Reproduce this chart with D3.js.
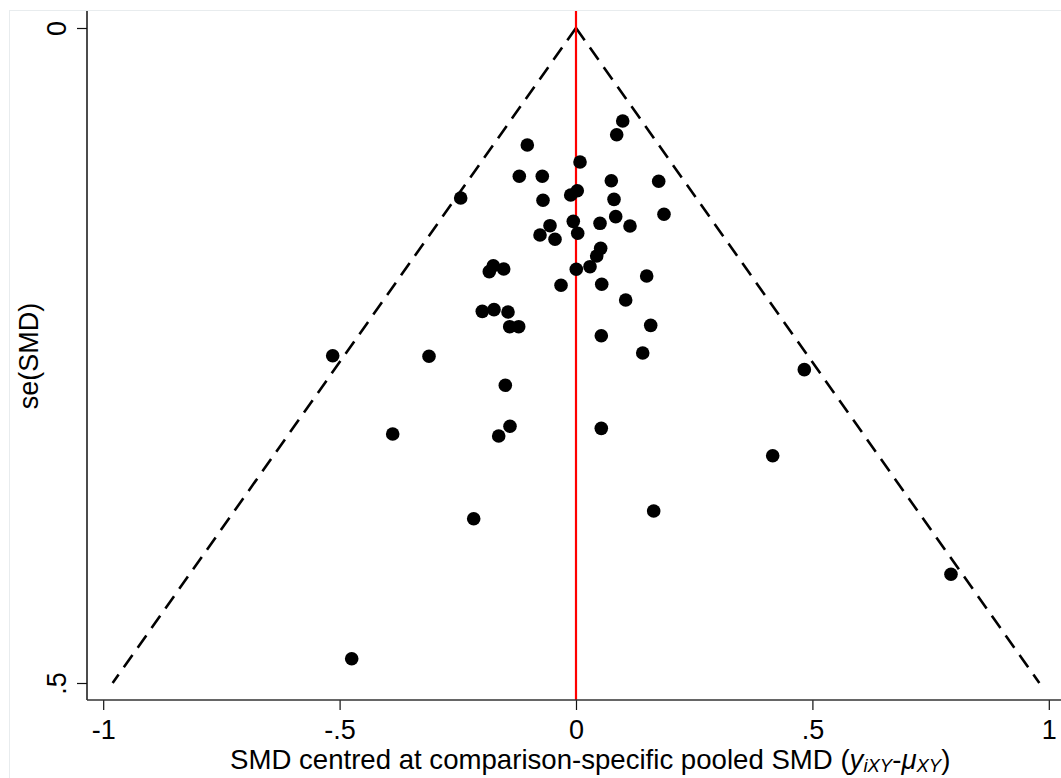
<!DOCTYPE html>
<html>
<head>
<meta charset="utf-8">
<script src="https://cdn.jsdelivr.net/npm/d3@7"></script>
<style>
  html, body { margin: 0; padding: 0; background: #fff; }
  svg { display: block; font-family: "Liberation Sans", Arial, Helvetica, sans-serif; }
</style>
</head>
<body>
<svg id="chart" width="1061" height="778"></svg>
<script>
// Centred SMD (x) and its standard error (y) for each study
const smdCentred = [
  0.0988, 0.0861, -0.1030, 0.0085, -0.1199, -0.0713, 0.0747, 0.1749, 0.0027, -0.0112,
  -0.2439, -0.0698, 0.0804, 0.1861, 0.0840, -0.0057, 0.0508, 0.1142, -0.0550, 0.0036,
  -0.0761, -0.0444, 0.0522, 0.0438, 0.0296, 0.0006, -0.1749, -0.1834, -0.1529, 0.1495,
  -0.0317, 0.0544, 0.1051, -0.1982, -0.1734, -0.1438, -0.1402, -0.1212, 0.1580, 0.0535,
  -0.5146, -0.3109, 0.1411, -0.1495, -0.3877, -0.1635, -0.1396, 0.0535, 0.4829, 0.4160,
  -0.2164, 0.1643, -0.4744, 0.7931
];
const seSMD = [
  0.0710, 0.0815, 0.0893, 0.1023, 0.1132, 0.1132, 0.1166, 0.1170, 0.1242, 0.1275,
  0.1298, 0.1315, 0.1308, 0.1422, 0.1440, 0.1476, 0.1491, 0.1511, 0.1509, 0.1567,
  0.1580, 0.1613, 0.1682, 0.1740, 0.1822, 0.1842, 0.1815, 0.1860, 0.1840, 0.1893,
  0.1964, 0.1956, 0.2076, 0.2163, 0.2150, 0.2168, 0.2280, 0.2280, 0.2270, 0.2349,
  0.2502, 0.2506, 0.2481, 0.2727, 0.3099, 0.3115, 0.3040, 0.3056, 0.2608, 0.3265,
  0.3746, 0.3687, 0.4815, 0.4170
];
const xTicks = [-1, -0.5, 0, 0.5, 1];
const xTickLabels = ["-1", "-.5", "0", ".5", "1"];
const yTicks = [0, 0.5];
const yTickLabels = ["0", ".5"];
const funnelSE = [0, 0.5];   // pseudo 95% CI limits: ±1.96·se
const zMult = 1.96;

const FONT = "'Liberation Sans', Arial, Helvetica, sans-serif";
const FS = "27px";

const svg = d3.select("#chart");

// outer graph-region border
svg.append("rect")
  .attr("x", 9.5).attr("y", 10.5)
  .attr("width", 1070).attr("height", 800)
  .attr("fill", "none").attr("stroke", "#e8ecee").attr("stroke-width", 1);

const x = d3.scaleLinear().domain([-1, 1]).range([103.2, 1048.8]);
const y = d3.scaleLinear().domain([0, 0.5]).range([28, 683]);

const plotLeft = 87, plotRight = 1061, plotTop = 11, plotBottom = 700;

// funnel (dashed) lines
const lineGen = d3.line().x(d => x(d[0])).y(d => y(d[1]));
[-1, 1].forEach(sgn => {
  svg.append("path")
    .datum(funnelSE.map(s => [sgn * zMult * s, s]))
    .attr("d", lineGen)
    .attr("fill", "none")
    .attr("stroke", "#000")
    .attr("stroke-width", 2.6)
    .attr("stroke-dasharray", "15,9");
});

// red vertical reference line at 0
svg.append("line")
  .attr("x1", x(0)).attr("x2", x(0))
  .attr("y1", plotTop).attr("y2", plotBottom)
  .attr("stroke", "#ff0000").attr("stroke-width", 2.2);

// points
svg.append("g").selectAll("circle")
  .data(smdCentred.map((v, i) => [v, seSMD[i]]))
  .join("circle")
  .attr("cx", d => x(d[0]))
  .attr("cy", d => y(d[1]))
  .attr("r", 6.8)
  .attr("fill", "#000");

// y axis
const yAxis = d3.axisLeft(y).tickValues(yTicks)
  .tickFormat((d, i) => yTickLabels[i]).tickSize(10).tickSizeOuter(0);
const gy = svg.append("g").attr("transform", `translate(${plotLeft},0)`).call(yAxis);
gy.select(".domain").remove();
gy.append("line").attr("x1", 0).attr("x2", 0).attr("y1", plotTop).attr("y2", plotBottom)
  .attr("stroke", "#111").attr("stroke-width", 1.5);
gy.selectAll(".tick line").attr("stroke", "#111").attr("stroke-width", 1.2);
gy.selectAll(".tick text")
  .attr("x", null).attr("dy", null)
  .attr("transform", "translate(-21,0) rotate(-90)")
  .attr("text-anchor", "middle")
  .attr("fill", "#000")
  .style("font-size", FS)
  .style("font-family", FONT);

// x axis
const xAxis = d3.axisBottom(x).tickValues(xTicks)
  .tickFormat((d, i) => xTickLabels[i]).tickSize(10).tickSizeOuter(0);
const gx = svg.append("g").attr("transform", `translate(0,${plotBottom})`).call(xAxis);
gx.select(".domain").remove();
gx.append("line").attr("x1", plotLeft).attr("x2", plotRight).attr("y1", 0).attr("y2", 0)
  .attr("stroke", "#333").attr("stroke-width", 1.5);
gx.selectAll(".tick line").attr("stroke", "#111").attr("stroke-width", 1.2);
gx.selectAll(".tick text")
  .attr("y", 39).attr("dy", null)
  .attr("fill", "#000")
  .style("font-size", FS)
  .style("font-family", FONT);

// axis titles
svg.append("text")
  .attr("transform", "translate(37.5,356) rotate(-90)")
  .attr("text-anchor", "middle")
  .style("font-size", FS)
  .style("font-family", FONT)
  .text("se(SMD)");

const xt = svg.append("text")
  .attr("x", 230).attr("y", 769)
  .attr("text-anchor", "start")
  .style("font-size", "27.6px")
  .style("font-family", FONT);
xt.append("tspan").text("SMD centred at comparison-specific pooled SMD (");
xt.append("tspan").attr("font-style", "italic").text("y");
xt.append("tspan").attr("font-style", "italic").style("font-size", "18.5px").attr("dy", 3).text("iXY");
xt.append("tspan").attr("dy", -3).text("-");
xt.append("tspan").attr("font-style", "italic").text("μ");
xt.append("tspan").attr("font-style", "italic").style("font-size", "18.5px").attr("dy", 3).text("XY");
xt.append("tspan").attr("dy", -3).text(")");
</script>
</body>
</html>
